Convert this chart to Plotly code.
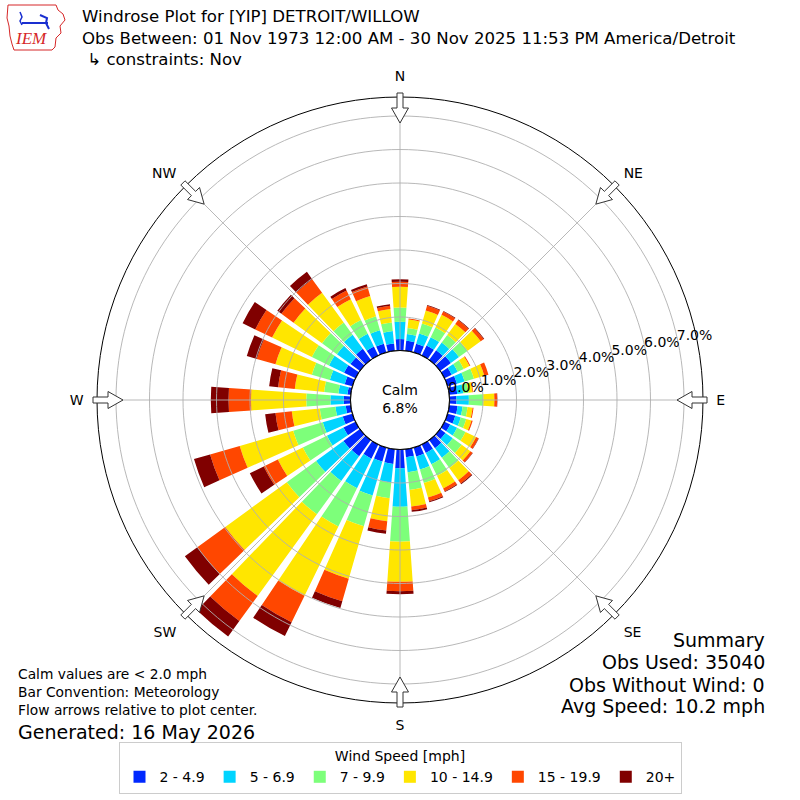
import math
import plotly.graph_objects as go

# ---------------- data (percent of observations) ----------------
directions = [0, 10, 20, 30, 40, 50, 60, 70, 80, 90, 100, 110, 120, 130, 140, 150, 160, 170,
              180, 190, 200, 210, 220, 230, 240, 250, 260, 270, 280, 290, 300, 310, 320, 330, 340, 350]
speed_bins = ["2 - 4.9", "5 - 6.9", "7 - 9.9", "10 - 14.9", "15 - 19.9", "20+"]
bin_colors = ["#0028ff", "#00d4ff", "#7dff7a", "#ffe600", "#ff4700", "#800000"]

pct_2_5 = [0.34, 0.30, 0.27, 0.33, 0.36, 0.40, 0.24, 0.29, 0.24, 0.21, 0.25, 0.24, 0.19, 0.20, 0.30, 0.28, 0.28, 0.24,
           0.56, 0.44, 0.43, 0.47, 0.60, 0.61, 0.40, 0.30, 0.15, 0.20, 0.10, 0.24, 0.38, 0.35, 0.41, 0.30, 0.27, 0.22]
pct_5_7 = [0.52, 0.20, 0.32, 0.28, 0.28, 0.30, 0.20, 0.24, 0.18, 0.37, 0.15, 0.17, 0.23, 0.27, 0.35, 0.38, 0.40, 0.45,
           1.15, 0.56, 1.06, 0.98, 0.91, 1.01, 0.55, 0.62, 0.31, 0.40, 0.27, 0.46, 0.50, 0.50, 0.52, 0.42, 0.42, 0.37]
pct_7_10 = [0.42, 0.18, 0.31, 0.32, 0.28, 0.32, 0.20, 0.29, 0.16, 0.43, 0.15, 0.17, 0.28, 0.33, 0.38, 0.38, 0.42, 0.53,
            1.04, 0.47, 0.95, 1.27, 1.23, 1.08, 0.80, 0.92, 0.47, 0.72, 0.43, 0.56, 0.57, 0.55, 0.45, 0.46, 0.43, 0.26]
pct_10_15 = [0.62, 0.26, 0.40, 0.42, 0.41, 0.48, 0.19, 0.32, 0.12, 0.33, 0.15, 0.16, 0.35, 0.32, 0.45, 0.42, 0.45, 0.50,
             1.20, 0.69, 1.63, 2.30, 3.01, 2.27, 0.83, 1.66, 0.84, 1.65, 0.88, 1.13, 1.32, 1.05, 1.10, 0.69, 0.63, 0.40]
pct_15_20 = [0.15, 0.03, 0.15, 0.11, 0.14, 0.11, 0.03, 0.13, 0.02, 0.08, 0.03, 0.04, 0.08, 0.08, 0.12, 0.10, 0.12, 0.11,
             0.28, 0.28, 0.70, 0.88, 0.93, 1.03, 0.47, 0.92, 0.49, 0.67, 0.50, 0.58, 0.56, 0.45, 0.50, 0.29, 0.30, 0.10]
pct_20p = [0.08, 0.00, 0.02, 0.02, 0.02, 0.02, 0.00, 0.00, 0.00, 0.01, 0.00, 0.00, 0.01, 0.01, 0.03, 0.02, 0.03, 0.05,
           0.09, 0.10, 0.21, 0.46, 0.57, 0.46, 0.46, 0.50, 0.31, 0.53, 0.27, 0.31, 0.42, 0.15, 0.27, 0.08, 0.07, 0.05]

ring_values = [0, 1, 2, 3, 4, 5, 6, 7]
compass_angles = [0, 45, 90, 135, 180, 225, 270, 315]
compass_labels = ["N", "NE", "E", "SE", "S", "SW", "W", "NW"]

calm_pct = 6.8
title_lines = ["Windrose Plot for [YIP] DETROIT/WILLOW",
               "Obs Between: 01 Nov 1973 12:00 AM - 30 Nov 2025 11:53 PM America/Detroit",
               " \u21b3 constraints: Nov"]
note_lines = ["Calm values are < 2.0 mph", "Bar Convention: Meteorology", "Flow arrows relative to plot center."]
obs_used = 35040
obs_without_wind = 0
avg_speed = 10.2
generated = "16 May 2026"

# ---------------- figure ----------------
W = H = 800
CX, CY, RAD = 400, 400, 303
RMAX = 7.567
HOLE = 49.5 / RAD
FONT = "DejaVu Sans"
GRID = "#b0b0b0"

series = [pct_2_5, pct_5_7, pct_7_10, pct_10_15, pct_15_20, pct_20p]

fig = go.Figure()
for name, color, vals in zip(speed_bins, bin_colors, series):
    fig.add_trace(go.Barpolar(
        r=vals, theta=directions, width=[8] * len(directions), name=name,
        marker=dict(color=color, line=dict(width=0)),
    ))

# grid drawn above bars (as in the reference)
circle_theta = [i for i in range(0, 361, 2)]
for rv in ring_values[1:]:
    fig.add_trace(go.Scatterpolar(r=[rv] * len(circle_theta), theta=circle_theta, mode="lines",
                                  line=dict(color=GRID, width=0.9), showlegend=False, hoverinfo="skip"))
for a in compass_angles:
    fig.add_trace(go.Scatterpolar(r=[0, RMAX], theta=[a, a], mode="lines",
                                  line=dict(color=GRID, width=0.9), showlegend=False, hoverinfo="skip"))
# calm circle border
fig.add_trace(go.Scatterpolar(r=[0] * len(circle_theta), theta=circle_theta, mode="lines",
                              line=dict(color="black", width=1.2), showlegend=False, hoverinfo="skip"))
# radial tick labels
fig.add_trace(go.Scatterpolar(r=ring_values, theta=[77] * len(ring_values), mode="text",
                              text=[f"{v:.1f}%" for v in ring_values], textposition="middle right",
                              textfont=dict(family=FONT, size=14, color="black"),
                              showlegend=False, hoverinfo="skip", cliponaxis=False))

fig.update_layout(
    width=W, height=H, margin=dict(l=0, r=0, t=0, b=0),
    paper_bgcolor="white", plot_bgcolor="white",
    font=dict(family=FONT, size=14, color="black"),
    polar=dict(
        domain=dict(x=[(CX - RAD) / W, (CX + RAD) / W], y=[1 - (CY + RAD) / H, 1 - (CY - RAD) / H]),
        hole=HOLE, bgcolor="white", barmode="stack",
        radialaxis=dict(range=[0, RMAX], showgrid=False, showline=False, showticklabels=False, ticks=""),
        angularaxis=dict(rotation=90, direction="clockwise", tickmode="array",
                         tickvals=compass_angles, ticktext=compass_labels,
                         ticks="outside", ticklen=10, tickcolor="rgba(0,0,0,0)",
                         showgrid=False, showline=True, linecolor="black", linewidth=1,
                         tickfont=dict(family=FONT, size=14, color="black")),
    ),
    legend=dict(orientation="h", x=0.5, xanchor="center", y=1 - 742 / H, yanchor="top",
                title=dict(text="Wind Speed [mph]", side="top center", font=dict(size=14)),
                font=dict(family=FONT, size=14), bordercolor="#cccccc", borderwidth=1,
                bgcolor="white", traceorder="normal"),
)

# flow arrows on compass points (decoration)
def px2p(x, y):
    return x / W, 1 - y / H

shapes = []
for a in compass_angles:
    t = math.radians(a)
    ux, uy = math.sin(t), -math.cos(t)
    vx, vy = math.cos(t), math.sin(t)
    def pt(r, off):
        return px2p(CX + r * ux + off * vx, CY + r * uy + off * vy)
    pts = [pt(277, 0), pt(292, 8.5), pt(292, 3), pt(307, 3), pt(307, -3), pt(292, -3), pt(292, -8.5)]
    path = "M " + " L ".join(f"{p[0]:.5f},{p[1]:.5f}" for p in pts) + " Z"
    shapes.append(dict(type="path", path=path, xref="paper", yref="paper",
                       fillcolor="white", line=dict(color="#333333", width=1)))

# simplified IEM logo
def poly(points, **kw):
    path = "M " + " L ".join(f"{px2p(x, y)[0]:.5f},{px2p(x, y)[1]:.5f}" for x, y in points)
    return dict(type="path", path=path, xref="paper", yref="paper", **kw)

shapes.append(poly([(8, 5), (56, 5), (58, 10), (63, 14), (65, 20), (60, 26), (61, 33), (56, 38),
                    (55, 47), (52, 50), (14, 50), (12, 44), (10, 36), (9, 26), (7, 18), (8, 5)],
                   line=dict(color="#d62728", width=1)))
shapes.append(poly([(22, 23), (48, 23)], line=dict(color="#1a2fd0", width=2)))
shapes.append(poly([(20, 12), (22, 17), (20, 21), (22, 25)], line=dict(color="#1a2fd0", width=1.5)))
shapes.append(poly([(40, 15), (47, 18), (46, 23), (49, 29)], line=dict(color="#1a2fd0", width=2)))
fig.update_layout(shapes=shapes)

def ann(text, x, y, size, xanchor="left", yanchor="middle", **kw):
    xp, yp = px2p(x, y)
    return dict(text=text, x=xp, y=yp, xref="paper", yref="paper", showarrow=False,
                xanchor=xanchor, yanchor=yanchor, align=xanchor if xanchor != "center" else "center",
                font=dict(family=FONT, size=size, color="black"), **kw)

annotations = [
    ann("<br>".join(title_lines), 80, 38, 16.6),
    ann(f"Calm<br>{calm_pct:.1f}%", 400, 399, 14, xanchor="center"),
    ann("<br>".join(note_lines), 16, 692, 13.8),
    ann(f"Generated: {generated}", 16, 732, 19),
    ann("Summary", 767, 640, 19, xanchor="right"),
    ann(f"Obs Used: {obs_used}", 767, 662, 19, xanchor="right"),
    ann(f"Obs Without Wind: {obs_without_wind}", 767, 685, 19, xanchor="right"),
    ann(f"Avg Speed: {avg_speed:.1f} mph", 767, 706, 19, xanchor="right"),
    dict(text="<i>IEM</i>", x=px2p(31, 39)[0], y=px2p(31, 39)[1], xref="paper", yref="paper",
         showarrow=False, xanchor="center", yanchor="middle",
         font=dict(family="Liberation Serif", size=17, color="#d62728")),
]
fig.update_layout(annotations=annotations)

fig.write_html("out.html", config={"displayModeBar": False},
               post_script="document.body.style.margin='0px';")
